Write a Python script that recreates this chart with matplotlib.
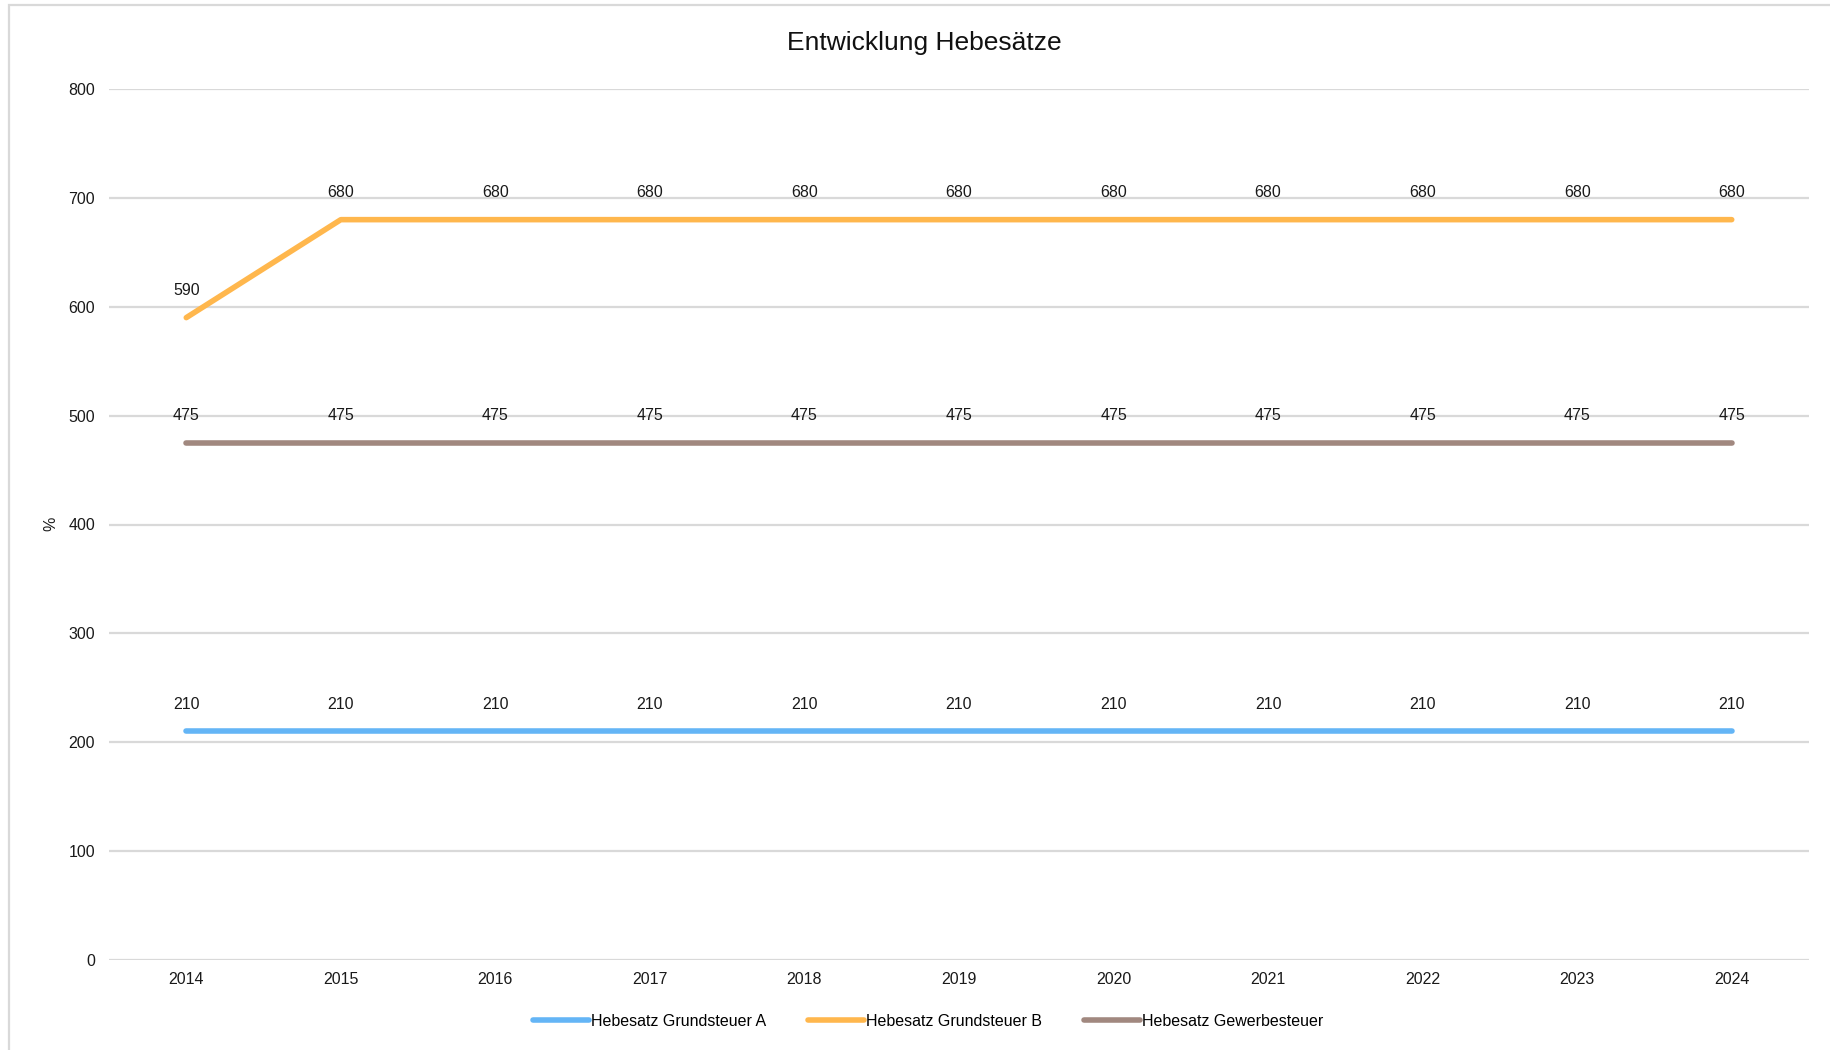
import matplotlib
matplotlib.use("Agg")
import matplotlib.pyplot as plt
from matplotlib.patches import Rectangle

plt.rcParams['font.family'] = ['Liberation Sans', 'DejaVu Sans']

years = ["2014", "2015", "2016", "2017", "2018", "2019", "2020", "2021", "2022", "2023", "2024"]
grundsteuer_a = [210, 210, 210, 210, 210, 210, 210, 210, 210, 210, 210]
grundsteuer_b = [590, 680, 680, 680, 680, 680, 680, 680, 680, 680, 680]
gewerbesteuer = [475, 475, 475, 475, 475, 475, 475, 475, 475, 475, 475]

series = [
    ("Hebesatz Grundsteuer A", grundsteuer_a, "#64B5F6"),
    ("Hebesatz Grundsteuer B", grundsteuer_b, "#FFB74D"),
    ("Hebesatz Gewerbesteuer", gewerbesteuer, "#A1887F"),
]

W, H = 1830, 1050
fig = plt.figure(figsize=(W / 100, H / 100), dpi=100)
fig.patch.set_facecolor("white")

# outer chart frame
fig.add_artist(Rectangle((9 / W, -0.05), 1.1, 1 - 5 / H + 0.05,
                         transform=fig.transFigure, fill=False,
                         edgecolor="#D9D9D9", linewidth=1.6))

left, right = 109 / W, 1809 / W
bottom, top = 1 - 960 / H, 1 - 89 / H
ax = fig.add_axes([left, bottom, right - left, top - bottom])

x = list(range(len(years)))
handles = []
for name, vals, color in series:
    (ln,) = ax.plot(x, vals, color=color, linewidth=4.0,
                    solid_capstyle="round", solid_joinstyle="round",
                    label=name, zorder=3)
    handles.append(ln)
    for xi, v in zip(x, vals):
        ax.annotate(f"{v}", (xi, v), xytext=(0, 19.5), textcoords="offset points",
                    ha="center", va="center", fontsize=11.5, color="#1a1a1a",
                    zorder=4)

ax.set_xlim(-0.5, len(years) - 0.5)
ax.set_ylim(0, 800)
ax.set_yticks(range(0, 801, 100))
ax.set_xticks(x)
ax.set_xticklabels(years)
ax.grid(axis="y", color="#D9D9D9", linewidth=1.6, zorder=0)
ax.set_axisbelow(True)
for s in ax.spines.values():
    s.set_visible(False)
ax.tick_params(axis="y", length=0, pad=10, labelsize=11.5, labelcolor="#1a1a1a")
ax.tick_params(axis="x", length=0, pad=9, labelsize=11.5, labelcolor="#1a1a1a")

fig.text(51 / W, 1 - 524 / H, "%", rotation=90, ha="center", va="center",
         fontsize=11.5, color="#1a1a1a")

fig.text(924 / W, 1 - 43 / H, "Entwicklung Hebesätze", ha="center", va="center",
         fontsize=19, color="#111111")

fig.legend(handles=handles, loc="center", bbox_to_anchor=(928 / W, 1 - 1021 / H),
           ncol=3, frameon=False, fontsize=11.5, handlelength=3.5,
           handletextpad=0.15, columnspacing=2.6)

fig.savefig("out.png", dpi=100, facecolor="white")
